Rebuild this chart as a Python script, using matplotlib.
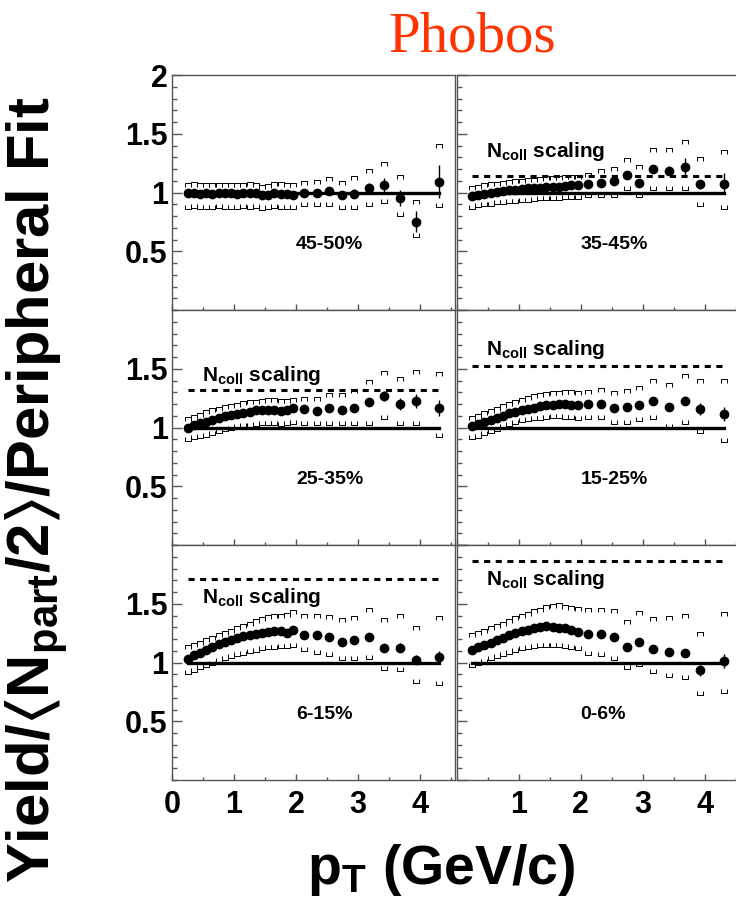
import matplotlib
matplotlib.use("Agg")
import matplotlib.pyplot as plt
from matplotlib.path import Path
from matplotlib.ticker import MultipleLocator, FixedLocator

plt.rcParams.update({
    'font.family': 'Liberation Sans',
    'font.weight': 'bold',
    'mathtext.fontset': 'custom',
    'mathtext.rm': 'Liberation Sans:bold',
    'mathtext.it': 'Liberation Sans:bold',
    'mathtext.bf': 'Liberation Sans:bold',
    'mathtext.fallback': 'stixsans',
})

# pT bin centres (GeV/c)
pt = [0.25, 0.35, 0.45, 0.55, 0.65, 0.75, 0.85, 0.95, 1.05, 1.15, 1.25, 1.35, 1.45, 1.55,
      1.65, 1.75, 1.85, 1.95, 2.12, 2.33, 2.53, 2.74, 2.94, 3.17, 3.42, 3.68, 3.93, 4.31]

# 45-50%
y_4550 = [1.0, 1.0, 0.99, 1.0, 0.99, 1.0, 1.0, 1.0, 0.99, 1.0, 1.0, 1.0, 0.98, 0.98, 1.0, 0.99, 0.99, 0.98,
          1.0, 1.0, 1.01, 0.975, 0.99, 1.04, 1.06, 0.955, 0.75, 1.09]
e_4550 = [0.005, 0.005, 0.005, 0.005, 0.005, 0.005, 0.005, 0.005, 0.005, 0.005, 0.005, 0.005, 0.005, 0.005,
          0.005, 0.005, 0.005, 0.005, 0.01, 0.015, 0.02, 0.03, 0.04, 0.04, 0.06, 0.07, 0.09, 0.14]
up_4550 = [1.065, 1.07, 1.065, 1.065, 1.06, 1.065, 1.065, 1.065, 1.06, 1.065, 1.07, 1.065, 1.05, 1.055, 1.07, 1.07, 1.065, 1.06,
           1.085, 1.088, 1.116, 1.085, 1.12, 1.18, 1.24, 1.135, 0.915, 1.395]
lo_4550 = [0.88, 0.885, 0.88, 0.88, 0.88, 0.885, 0.88, 0.88, 0.88, 0.885, 0.88, 0.885, 0.87, 0.875, 0.885, 0.88, 0.875, 0.875,
           0.904, 0.904, 0.904, 0.873, 0.88, 0.904, 0.924, 0.82, 0.635, 0.89]

# 35-45%
y_3545 = [0.97, 0.98, 0.99, 1.0, 1.005, 1.01, 1.02, 1.025, 1.03, 1.035, 1.04, 1.04, 1.045, 1.05, 1.05, 1.055, 1.06, 1.065,
          1.073, 1.08, 1.1, 1.15, 1.085, 1.2, 1.185, 1.22, 1.07, 1.073]
e_3545 = [0.005, 0.005, 0.005, 0.005, 0.005, 0.005, 0.005, 0.005, 0.005, 0.005, 0.005, 0.005, 0.005, 0.005,
          0.005, 0.005, 0.005, 0.005, 0.01, 0.015, 0.02, 0.02, 0.025, 0.03, 0.04, 0.07, 0.04, 0.09]
up_3545 = [1.04, 1.05, 1.06, 1.07, 1.075, 1.08, 1.09, 1.095, 1.1, 1.105, 1.11, 1.115, 1.12, 1.12, 1.125, 1.13, 1.13, 1.135,
           1.15, 1.18, 1.2, 1.277, 1.22, 1.36, 1.36, 1.43, 1.285, 1.347]
lo_3545 = [0.88, 0.89, 0.9, 0.905, 0.915, 0.92, 0.925, 0.93, 0.935, 0.94, 0.945, 0.95, 0.95, 0.955, 0.955, 0.96, 0.96, 0.965,
           0.975, 0.975, 0.975, 1.042, 0.975, 1.042, 1.042, 1.042, 0.904, 0.88]

# 25-35%
y_2535 = [1.0, 1.02, 1.035, 1.05, 1.065, 1.08, 1.095, 1.105, 1.115, 1.125, 1.135, 1.145, 1.15, 1.15, 1.15, 1.14, 1.15, 1.17,
          1.156, 1.142, 1.17, 1.148, 1.165, 1.218, 1.268, 1.198, 1.226, 1.165]
e_2535 = [0.005, 0.005, 0.005, 0.005, 0.005, 0.005, 0.005, 0.005, 0.005, 0.005, 0.005, 0.005, 0.005, 0.005,
          0.005, 0.005, 0.005, 0.005, 0.015, 0.02, 0.025, 0.02, 0.025, 0.03, 0.04, 0.05, 0.06, 0.07]
up_2535 = [1.07, 1.09, 1.11, 1.13, 1.145, 1.16, 1.175, 1.185, 1.195, 1.205, 1.215, 1.22, 1.225, 1.23, 1.23, 1.225, 1.225, 1.235,
           1.24, 1.24, 1.28, 1.276, 1.31, 1.385, 1.464, 1.413, 1.469, 1.458]
lo_2535 = [0.905, 0.915, 0.925, 0.94, 0.955, 0.97, 0.985, 1.0, 1.01, 1.02, 1.025, 1.03, 1.035, 1.035, 1.035, 1.03, 1.035, 1.045,
           1.036, 1.036, 1.036, 1.036, 1.036, 1.036, 1.092, 1.036, 1.036, 0.94]

# 15-25%
y_1525 = [1.015, 1.03, 1.045, 1.065, 1.085, 1.1, 1.12, 1.135, 1.15, 1.16, 1.17, 1.18, 1.19, 1.195, 1.2, 1.2, 1.195, 1.19,
          1.2, 1.2, 1.167, 1.178, 1.195, 1.229, 1.178, 1.229, 1.158, 1.113]
e_1525 = [0.005, 0.005, 0.005, 0.005, 0.005, 0.005, 0.005, 0.005, 0.005, 0.005, 0.005, 0.005, 0.005, 0.005,
          0.005, 0.005, 0.005, 0.005, 0.01, 0.015, 0.02, 0.02, 0.025, 0.025, 0.03, 0.04, 0.05, 0.06]
up_1525 = [1.085, 1.1, 1.12, 1.14, 1.16, 1.18, 1.2, 1.22, 1.235, 1.25, 1.265, 1.275, 1.285, 1.29, 1.295, 1.3, 1.3, 1.295,
           1.3, 1.32, 1.29, 1.313, 1.336, 1.4, 1.36, 1.44, 1.4, 1.4]
lo_1525 = [0.915, 0.93, 0.95, 0.97, 0.99, 1.01, 1.03, 1.045, 1.06, 1.07, 1.08, 1.085, 1.09, 1.095, 1.095, 1.09, 1.09, 1.085,
           1.088, 1.088, 1.045, 1.045, 1.073, 1.088, 1.017, 1.045, 0.97, 0.895]

# 6-15%
y_0615 = [1.03, 1.06, 1.085, 1.11, 1.135, 1.155, 1.175, 1.195, 1.21, 1.225, 1.235, 1.245, 1.255, 1.26, 1.265, 1.265, 1.25, 1.28,
          1.235, 1.23, 1.215, 1.178, 1.19, 1.215, 1.127, 1.127, 1.023, 1.045]
e_0615 = [0.005, 0.005, 0.005, 0.005, 0.005, 0.005, 0.005, 0.005, 0.005, 0.005, 0.005, 0.005, 0.005, 0.005,
          0.005, 0.005, 0.005, 0.005, 0.01, 0.01, 0.015, 0.02, 0.02, 0.025, 0.03, 0.035, 0.04, 0.05]
up_0615 = [1.13, 1.15, 1.17, 1.19, 1.21, 1.23, 1.25, 1.27, 1.29, 1.31, 1.33, 1.35, 1.37, 1.385, 1.395, 1.4, 1.405, 1.43,
           1.395, 1.395, 1.384, 1.36, 1.38, 1.446, 1.36, 1.395, 1.29, 1.376]
lo_0615 = [0.915, 0.935, 0.96, 0.98, 1.0, 1.02, 1.04, 1.055, 1.07, 1.085, 1.1, 1.11, 1.12, 1.13, 1.135, 1.14, 1.14, 1.15,
           1.113, 1.093, 1.073, 1.037, 1.037, 1.05, 0.952, 0.944, 0.84, 0.825]

# 0-6%
y_0006 = [1.11, 1.13, 1.15, 1.17, 1.19, 1.21, 1.23, 1.25, 1.265, 1.28, 1.29, 1.3, 1.31, 1.305, 1.295, 1.29, 1.28, 1.26,
          1.243, 1.243, 1.215, 1.136, 1.172, 1.113, 1.088, 1.08, 0.932, 1.014]
e_0006 = [0.005, 0.005, 0.005, 0.005, 0.005, 0.005, 0.005, 0.005, 0.005, 0.005, 0.005, 0.005, 0.005, 0.005,
          0.005, 0.005, 0.005, 0.005, 0.01, 0.01, 0.015, 0.02, 0.02, 0.025, 0.03, 0.035, 0.045, 0.06]
up_0006 = [1.23, 1.25, 1.27, 1.29, 1.31, 1.33, 1.355, 1.375, 1.395, 1.415, 1.435, 1.45, 1.47, 1.485, 1.49, 1.475, 1.465, 1.455,
           1.446, 1.446, 1.44, 1.347, 1.418, 1.367, 1.376, 1.395, 1.24, 1.412]
lo_0006 = [0.98, 0.995, 1.015, 1.035, 1.055, 1.07, 1.09, 1.105, 1.12, 1.13, 1.14, 1.145, 1.15, 1.15, 1.145, 1.14, 1.13, 1.12,
           1.08, 1.073, 1.042, 0.96, 0.986, 0.93, 0.895, 0.876, 0.74, 0.76]

centralities = ['45-50%', '35-45%', '25-35%', '15-25%', '6-15%', '0-6%']
ncoll_level = [None, 1.14, 1.32, 1.52, 1.71, 1.86]
ncoll_text_y = [None, 1.30, 1.40, 1.615, 1.505, 1.66]

panels = [
    (y_4550, e_4550, up_4550, lo_4550),
    (y_3545, e_3545, up_3545, lo_3545),
    (y_2535, e_2535, up_2535, lo_2535),
    (y_1525, e_1525, up_1525, lo_1525),
    (y_0615, e_0615, up_0615, lo_0615),
    (y_0006, e_0006, up_0006, lo_0006),
]

# sys-error bracket markers (open boxes)
cap_top = Path([(-1, -0.75), (-1, 0.75), (1, 0.75), (1, -0.75)],
               [Path.MOVETO, Path.LINETO, Path.LINETO, Path.LINETO])
cap_bot = Path([(-1, 0.75), (-1, -0.75), (1, -0.75), (1, 0.75)],
               [Path.MOVETO, Path.LINETO, Path.LINETO, Path.LINETO])

W, H = 736, 913
fig = plt.figure(figsize=(W / 100, H / 100), dpi=100)

frame_col = '#555555'
pw, ph = 283, 235
col_x = [172, 456.5]
row_top = [75, 310, 545]

for i in range(6):
    r, c = divmod(i, 2)
    x0 = col_x[c]
    ytop = row_top[r]
    ax = fig.add_axes([x0 / W, 1 - (ytop + ph) / H, pw / W, ph / H])
    y, e, up, lo = panels[i]

    ax.plot([pt[0], pt[-1]], [1, 1], color='k', lw=2.4, zorder=2)
    if ncoll_level[i] is not None:
        ax.plot([pt[0], pt[-1]], [ncoll_level[i]] * 2, color='k', lw=2.2,
                ls=(0, (2.0, 1.8)), zorder=2)
        ax.text(0.48, ncoll_text_y[i], r'N$_{\rm coll}$ scaling', fontsize=15,
                fontweight='bold', ha='left', va='baseline')

    ax.plot(pt, up, ls='none', marker=cap_top, ms=4.0, mfc='none', mec='k', mew=0.7, zorder=3)
    ax.plot(pt, lo, ls='none', marker=cap_bot, ms=4.0, mfc='none', mec='k', mew=0.7, zorder=3)
    ax.errorbar(pt, y, yerr=e, fmt='o', ms=6, color='k', elinewidth=1.0, capsize=0, zorder=4)

    ax.text(2.0, 0.56, centralities[i], fontsize=14, fontweight='bold', ha='left', va='center')

    ax.set_xlim(0, 4.56)
    ax.set_ylim(0, 2)
    ax.xaxis.set_major_locator(MultipleLocator(1))
    ax.xaxis.set_minor_locator(MultipleLocator(0.5))
    ax.yaxis.set_major_locator(MultipleLocator(0.5))
    ax.yaxis.set_minor_locator(MultipleLocator(0.1))
    ax.tick_params(which='both', direction='in', top=False, right=False, color=frame_col, width=1.0)
    ax.tick_params(axis='y', which='major', length=7)
    ax.tick_params(axis='y', which='minor', length=3.5)
    ax.tick_params(axis='x', which='major', length=4)
    ax.tick_params(axis='x', which='minor', length=2.5)
    ax.tick_params(labelsize=22, pad=3)
    for s in ax.spines.values():
        s.set_color(frame_col)
        s.set_linewidth(1.0)

    if c == 0:
        if r == 0:
            ax.yaxis.set_major_locator(FixedLocator([0.5, 1, 1.5, 2]))
            ax.set_yticklabels(['0.5', '1', '1.5', '2'])
        else:
            ax.yaxis.set_major_locator(FixedLocator([0.5, 1, 1.5]))
            ax.set_yticklabels(['0.5', '1', '1.5'])
    else:
        ax.set_yticklabels([])

    if r == 2:
        ax.tick_params(axis='x', pad=7)
        if c == 0:
            ax.xaxis.set_major_locator(FixedLocator([0, 1, 2, 3, 4]))
            ax.set_xticklabels(['0', '1', '2', '3', '4'])
        else:
            ax.xaxis.set_major_locator(FixedLocator([1, 2, 3, 4]))
            ax.set_xticklabels(['1', '2', '3', '4'])
    else:
        ax.set_xticklabels([])

fig.text(0.641, 1 - 52 / H, 'Phobos', fontsize=41, color='#ff3300',
         family='Liberation Serif', fontweight='normal', ha='center', va='baseline')
fig.text(0.05, 0.463, r'Yield/$\langle$N$_{\rm part}$/2$\rangle$/Peripheral Fit',
         fontsize=43, fontweight='bold', rotation=90, ha='center', va='center')
fig.text(0.6, 0.047, r'p$_{\rm T}$ (GeV/c)', fontsize=40, fontweight='bold',
         ha='center', va='center')

fig.savefig('out.png', dpi=100)
